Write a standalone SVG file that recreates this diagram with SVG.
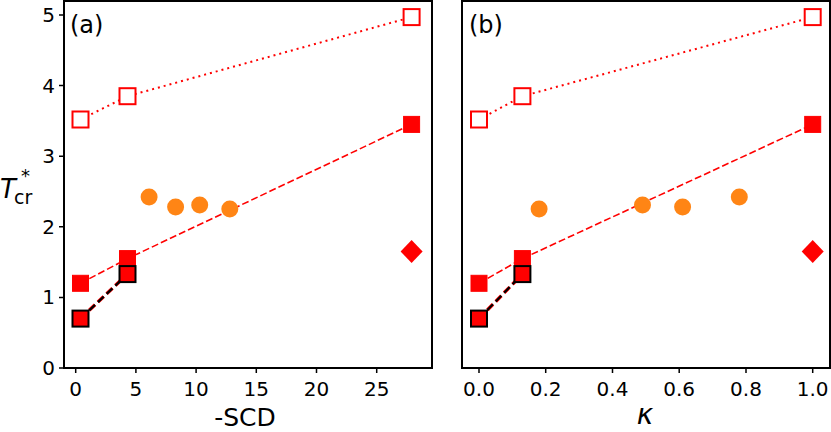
<svg xmlns="http://www.w3.org/2000/svg" width="831" height="432" viewBox="0 0 831 432">
<style>
text{font-family:"DejaVu Sans",sans-serif;fill:#000}
.t{font-size:20px}
.frame{fill:none;stroke:#000;stroke-width:2}
.tick{stroke:#000;stroke-width:1.5}
.os{fill:#fff;stroke:#f00;stroke-width:2}
.fs{fill:#f00;stroke:#f00;stroke-width:1}
.bs{fill:#f00;stroke:#000;stroke-width:2}
.c{fill:#ff8515}
.dot{fill:none;stroke:#f00;stroke-width:2;stroke-dasharray:2,4}
.dash{fill:none;stroke:#f00;stroke-width:1.6;stroke-dasharray:7,3}
.bd{fill:none;stroke:#000;stroke-width:2.2;stroke-dasharray:8,4}
.rd{fill:none;stroke:#f00;stroke-width:3.5;stroke-dasharray:8,4}
</style>
<rect width="831" height="432" fill="#fff"/>
<g id="axes">
<rect class="frame" x="64" y="1" width="368" height="367"/>
<rect class="frame" x="462" y="1" width="368" height="367"/>
<g class="tick">
<path d="M64 368h-5M64 297.4h-5M64 226.8h-5M64 156.2h-5M64 85.6h-5M64 15h-5"/>
<path d="M75.7 368v5M135.9 368v5M196.1 368v5M256.3 368v5M316.5 368v5M376.7 368v5"/>
<path d="M479 368v5M545.7 368v5M612.5 368v5M679.2 368v5M746 368v5M812.7 368v5"/>
</g>
<g class="t" text-anchor="end">
<text x="55" y="375">0</text><text x="55" y="304.4">1</text><text x="55" y="233.8">2</text><text x="55" y="163.2">3</text><text x="55" y="92.6">4</text><text x="55" y="22">5</text>
</g>
<g class="t" text-anchor="middle">
<text x="75.7" y="396">0</text><text x="135.9" y="396">5</text><text x="196.1" y="396">10</text><text x="256.3" y="396">15</text><text x="316.5" y="396">20</text><text x="376.7" y="396">25</text>
<text x="479" y="396">0.0</text><text x="545.7" y="396">0.2</text><text x="612.5" y="396">0.4</text><text x="679.2" y="396">0.6</text><text x="746" y="396">0.8</text><text x="812.7" y="396">1.0</text>
</g>
<text x="245" y="426" font-size="25" text-anchor="middle">-SCD</text>
<text x="645" y="424" font-size="28" font-style="italic" font-family="DejaVu Serif,serif" text-anchor="middle">κ</text>
<text x="0" y="198" font-size="26" font-style="italic">T</text>
<text x="14" y="204" font-size="19">cr</text>
<text x="21" y="182" font-size="18">*</text>
<text x="70" y="33" font-size="24">(a)</text>
<text x="469" y="33" font-size="24">(b)</text>
</g>
<g id="connectors">
<polyline class="dot" points="80.5,119.5 127.5,96.2 411.6,17.1"/>
<polyline class="dash" points="80.5,283.3 127.5,258.6 411.6,124.4"/>
<polyline class="rd" points="80.5,318.6 127.5,274.1"/>
<polyline class="bd" points="80.5,318.6 127.5,274.1"/>
<polyline class="dot" points="479,119.5 522.4,96.2 812.7,17.1"/>
<polyline class="dash" points="479,283.3 522.4,258.6 812.7,124.4"/>
<polyline class="rd" points="479,318.6 522.4,274.1"/>
<polyline class="bd" points="479,318.6 522.4,274.1"/>
</g>
<g id="points-a">
<rect class="os" x="72.5" y="111.5" width="16" height="16"/>
<rect class="os" x="119.5" y="88.2" width="16" height="16"/>
<rect class="os" x="403.6" y="9.1" width="16" height="16"/>
<rect class="fs" x="72.5" y="275.3" width="16" height="16"/>
<rect class="fs" x="119.5" y="250.6" width="16" height="16"/>
<rect class="fs" x="403.6" y="116.4" width="16" height="16"/>
<rect class="bs" x="72.5" y="310.6" width="16" height="16"/>
<rect class="bs" x="119.5" y="266.1" width="16" height="16"/>
<circle class="c" cx="149.1" cy="197.1" r="8.5"/><circle class="c" cx="175.6" cy="207" r="8.5"/><circle class="c" cx="199.7" cy="204.9" r="8.5"/><circle class="c" cx="229.8" cy="209.1" r="8.5"/>
<path fill="#f00" d="M411.6 240l11 11.5-11 11.5-11-11.5z"/>
</g>
<g id="points-b">
<rect class="os" x="471" y="111.5" width="16" height="16"/>
<rect class="os" x="514.4" y="88.2" width="16" height="16"/>
<rect class="os" x="804.7" y="9.1" width="16" height="16"/>
<rect class="fs" x="471" y="275.3" width="16" height="16"/>
<rect class="fs" x="514.4" y="250.6" width="16" height="16"/>
<rect class="fs" x="804.7" y="116.4" width="16" height="16"/>
<rect class="bs" x="471" y="310.6" width="16" height="16"/>
<rect class="bs" x="514.4" y="266.1" width="16" height="16"/>
<circle class="c" cx="539.1" cy="209.1" r="8.5"/><circle class="c" cx="642.5" cy="204.9" r="8.5"/><circle class="c" cx="682.6" cy="207" r="8.5"/><circle class="c" cx="739.3" cy="197.1" r="8.5"/>
<path fill="#f00" d="M812.7 240l11 11.5-11 11.5-11-11.5z"/>
</g>
</svg>
